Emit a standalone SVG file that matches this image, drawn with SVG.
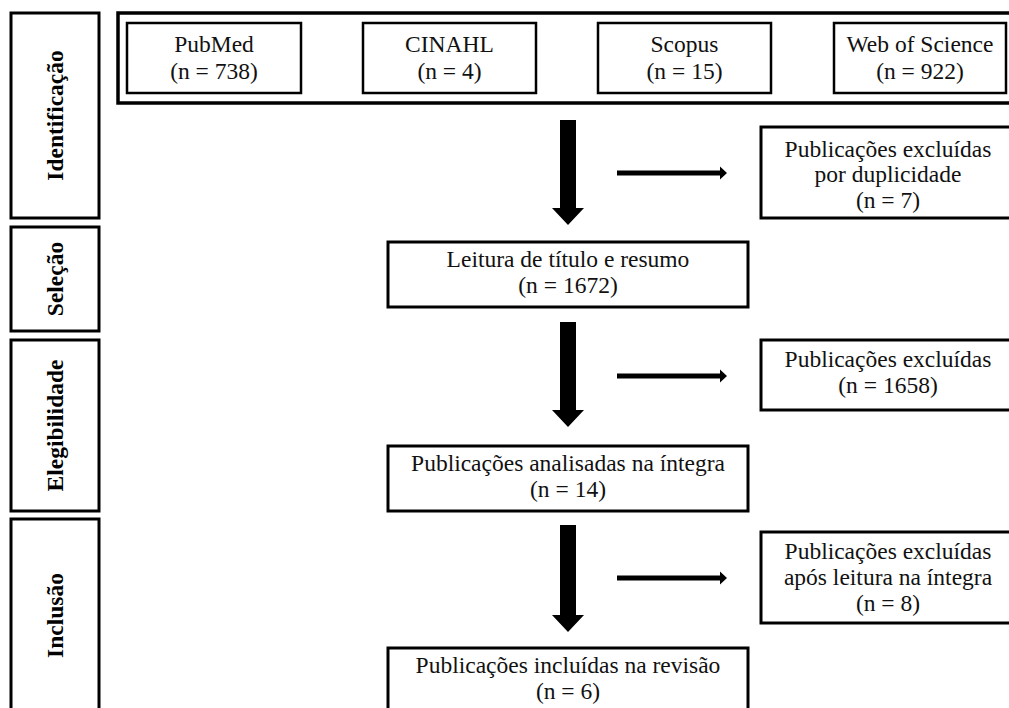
<svg xmlns="http://www.w3.org/2000/svg" width="1009" height="708" viewBox="0 0 1009 708">
<style>
.box{fill:#fff;stroke:#000;stroke-width:3}
.src{fill:#fff;stroke:#000;stroke-width:2.5}
.t{font-family:"Liberation Serif","Times New Roman",serif;font-size:23.5px;fill:#111;text-anchor:middle}
.side{font-family:"Liberation Serif","Times New Roman",serif;font-size:23.5px;font-weight:bold;fill:#000;text-anchor:middle}
.arr{fill:#000}
</style>
<rect width="1009" height="708" fill="#fff"/>
<g id="phase-identificacao"><rect class="box" x="11" y="13" width="88" height="205"/><text class="side" transform="translate(63,115.5) rotate(-90)">Identificação</text></g>
<g id="phase-selecao"><rect class="box" x="11" y="227" width="88" height="104"/><text class="side" transform="translate(63,279) rotate(-90)">Seleção</text></g>
<g id="phase-elegibilidade"><rect class="box" x="11" y="340" width="88" height="171"/><text class="side" transform="translate(63,425.5) rotate(-90)">Elegibilidade</text></g>
<g id="phase-inclusao"><rect class="box" x="11" y="519" width="88" height="194"/><text class="side" transform="translate(63,615.5) rotate(-90)">Inclusão</text></g>
<g id="sources"><rect x="118" y="13" width="900" height="90" fill="#fff" stroke="#000" stroke-width="3.5"/></g>
<g id="pubmed"><rect class="src" x="127" y="23" width="174" height="70"/><text class="t" x="214" y="52">PubMed</text><text class="t" x="214" y="79">(n = 738)</text></g>
<g id="cinahl"><rect class="src" x="363" y="23" width="173" height="70"/><text class="t" x="449.5" y="52">CINAHL</text><text class="t" x="449.5" y="79">(n = 4)</text></g>
<g id="scopus"><rect class="src" x="598" y="23" width="173" height="70"/><text class="t" x="684.5" y="52">Scopus</text><text class="t" x="684.5" y="79">(n = 15)</text></g>
<g id="wos"><rect class="src" x="834" y="23" width="172" height="70"/><text class="t" x="920" y="52">Web of Science</text><text class="t" x="920" y="79">(n = 922)</text></g>
<g id="excl-dup"><rect class="box" x="761" y="127" width="260" height="91"/><text class="t" x="888" y="157">Publicações excluídas</text><text class="t" x="888" y="182">por duplicidade</text><text class="t" x="888" y="208">(n = 7)</text></g>
<g id="leitura"><rect class="box" x="388" y="242" width="360" height="65"/><text class="t" x="568" y="267">Leitura de título e resumo</text><text class="t" x="568" y="293">(n = 1672)</text></g>
<g id="excl-1658"><rect class="box" x="761" y="340" width="260" height="70"/><text class="t" x="888" y="367">Publicações excluídas</text><text class="t" x="888" y="393">(n = 1658)</text></g>
<g id="integra"><rect class="box" x="388" y="446" width="360" height="65"/><text class="t" x="568" y="471">Publicações analisadas na íntegra</text><text class="t" x="568" y="497">(n = 14)</text></g>
<g id="excl-8"><rect class="box" x="761" y="532" width="260" height="91"/><text class="t" x="888" y="559">Publicações excluídas</text><text class="t" x="888" y="585">após leitura na íntegra</text><text class="t" x="888" y="611">(n = 8)</text></g>
<g id="incluidas"><rect class="box" x="388" y="648" width="360" height="70"/><text class="t" x="568" y="673">Publicações incluídas na revisão</text><text class="t" x="568" y="699">(n = 6)</text></g>
<g id="connectors">
<polygon class="arr" points="560,120 576,120 576,208 584,208 568,225 552,208 560,208"/>
<polygon class="arr" points="560,322 576,322 576,410 584,410 568,427 552,410 560,410"/>
<polygon class="arr" points="560,525 576,525 576,615 584,615 568,632 552,615 560,615"/>
<polygon class="arr" points="617,170.5 720,170.5 720,166.5 727,173 720,179.5 720,175.5 617,175.5"/>
<polygon class="arr" points="617,373.5 720,373.5 720,369.5 727,376 720,382.5 720,378.5 617,378.5"/>
<polygon class="arr" points="617,575.5 720,575.5 720,571.5 727,578 720,584.5 720,580.5 617,580.5"/>
</g>
</svg>
